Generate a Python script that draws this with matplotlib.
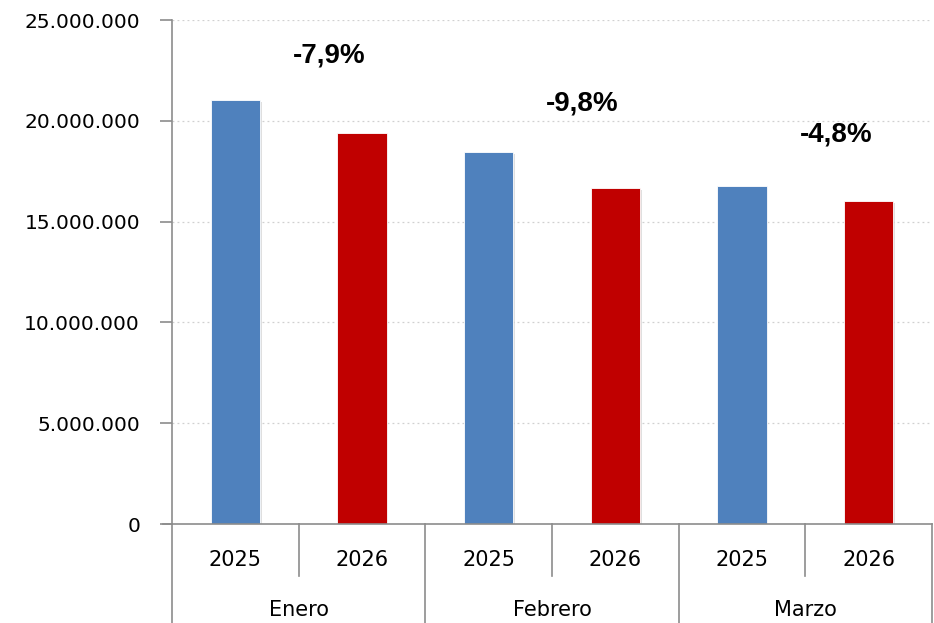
import matplotlib
matplotlib.use("Agg")
from matplotlib import pyplot as plt
from matplotlib import patheffects as pe
from matplotlib import font_manager as fm
from matplotlib.ticker import FuncFormatter
import matplotlib.transforms as mtransforms

# data
months = ["Enero", "Febrero", "Marzo"]
years = ["2025", "2026"]
values_2025 = [21030000, 18450000, 16770000]
values_2026 = [19380000, 16650000, 16020000]
changes = ["-7,9%", "-9,8%", "-4,8%"]
y_ticks = [0, 5000000, 10000000, 15000000, 20000000, 25000000]

blue = "#4F81BD"
red = "#C00000"
axis_gray = "#8c8c8c"

# bold arial-like font for the change labels (avoid the Narrow variant)
bold_font = None
for f in fm.fontManager.ttflist:
	if f.name == "Liberation Sans" and f.weight == 700 and f.style == "normal" and "Narrow" not in f.fname:
		bold_font = fm.FontProperties(fname=f.fname, size=20)
		break
if bold_font is None:
	bold_font = fm.FontProperties(family="DejaVu Sans", weight="bold", size=18)

fig = plt.figure(figsize=(9.34, 6.23), dpi=100)
ax = fig.add_axes([172/934, 1-524/623, 760/934, 504/623])

shadow = [pe.SimplePatchShadow(offset=(1.2, -1.2), shadow_rgbFace="gray", alpha=0.25), pe.Normal()]

pos_2025 = [2*i for i in range(len(months))]
pos_2026 = [2*i + 1 for i in range(len(months))]
bars1 = ax.bar(pos_2025, values_2025, width=0.39, color=blue, edgecolor="white", linewidth=0.6, zorder=3)
bars2 = ax.bar(pos_2026, values_2026, width=0.39, color=red, edgecolor="white", linewidth=0.6, zorder=3)
for b in list(bars1) + list(bars2):
	b.set_path_effects(shadow)

ax.set_xlim(-0.5, 2*len(months) - 0.5)
ax.set_ylim(0, 25000000)
ax.set_yticks(y_ticks)
ax.yaxis.set_major_formatter(FuncFormatter(lambda v, p: "{:,.0f}".format(v).replace(",", ".")))
ax.tick_params(axis="y", direction="out", length=9, width=1.2, color=axis_gray, labelsize=14.5, pad=14)
ax.set_xticks([])

for s in ["top", "right"]:
	ax.spines[s].set_visible(False)
ax.spines["left"].set_color(axis_gray)
ax.spines["left"].set_linewidth(1.2)
ax.spines["bottom"].set_visible(False)

# gridlines
for t in y_ticks[1:]:
	ax.axhline(t, color="#d0d0d0", linestyle=(0, (1.5, 2.5)), linewidth=0.9, zorder=1)

# x axis line extended left like the tick
trans = mtransforms.blended_transform_factory(ax.transData, ax.transAxes)
ax.plot([-0.5 - 9/126.7, 2*len(months) - 0.5], [0, 0], transform=trans, color=axis_gray, lw=1.2, clip_on=False, zorder=4)

# category separators
for i in range(len(months) + 1):
	x = 2*i - 0.5
	ax.plot([x, x], [0, -99/504], transform=trans, color=axis_gray, lw=1.2, clip_on=False)
for i in range(len(months)):
	x = 2*i + 0.5
	ax.plot([x, x], [0, -52/504], transform=trans, color=axis_gray, lw=1.2, clip_on=False)

# year and month labels
for i in range(len(months)):
	for j, yr in enumerate(years):
		ax.text(2*i + j, -36/504, yr, transform=trans, ha="center", va="center", fontsize=15)
	ax.text(2*i + 0.5, -86/504, months[i], transform=trans, ha="center", va="center", fontsize=15)

# change labels (baseline positions)
label_y = [22870000, 20500000, 18950000]
for i, c in enumerate(changes):
	ax.text(2*i + 0.74, label_y[i], c, ha="center", va="baseline", fontproperties=bold_font)

fig.savefig("out.png", dpi=100)
